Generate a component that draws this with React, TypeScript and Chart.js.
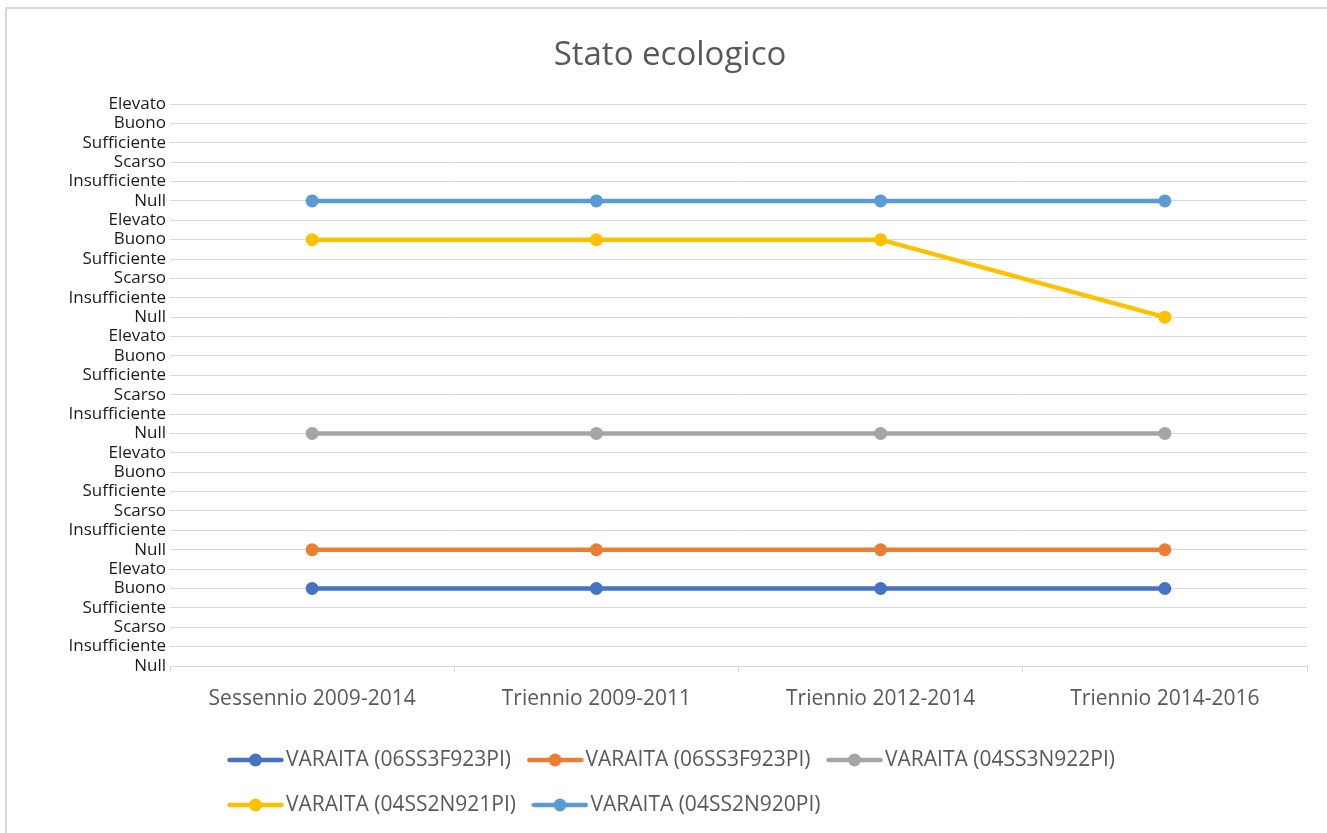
import React, { useEffect, useRef } from "react";
import { Chart, registerables } from "chart.js";

Chart.register(...registerables);

const categories = ["Sessennio 2009-2014", "Triennio 2009-2011", "Triennio 2012-2014", "Triennio 2014-2016"];
const levelLabels = ["Null", "Insufficiente", "Scarso", "Sufficiente", "Buono", "Elevato"];

const seriesNames = [
  "VARAITA (06SS3F923PI)",
  "VARAITA (06SS3F923PI)",
  "VARAITA (04SS3N922PI)",
  "VARAITA (04SS2N921PI)",
  "VARAITA (04SS2N920PI)",
];
const seriesColors = ["#4472C4", "#ED7D31", "#A5A5A5", "#FFC000", "#5B9BD5"];

// stacked values (Excel stacked line chart)
const s1 = [4, 4, 4, 4];
const s2 = [2, 2, 2, 2];
const s3 = [6, 6, 6, 6];
const s4 = [10, 10, 10, 6];
const s5 = [2, 2, 2, 6];
const seriesValues = [s1, s2, s3, s4, s5];

const yMax = 29;

function makeLegendImage(color: string): HTMLCanvasElement {
  const c = document.createElement("canvas");
  c.width = 57;
  c.height = 14;
  const ctx = c.getContext("2d")!;
  ctx.strokeStyle = color;
  ctx.lineWidth = 4.5;
  ctx.lineCap = "round";
  ctx.beginPath();
  ctx.moveTo(2.5, 7);
  ctx.lineTo(54.5, 7);
  ctx.stroke();
  ctx.fillStyle = color;
  ctx.beginPath();
  ctx.arc(28.5, 7, 6.5, 0, Math.PI * 2);
  ctx.fill();
  return c;
}

export default function App() {
  const canvasRef = useRef<HTMLCanvasElement | null>(null);

  useEffect(() => {
    if (!canvasRef.current) return;
    const legendImages = seriesColors.map((c) => makeLegendImage(c));

    const legendShift = {
      id: "legendShift",
      afterLayout(chart: any) {
        if (chart.legend) {
          chart.legend.left = 211.5;
        }
      },
    };

    const frame = {
      id: "frame",
      beforeDraw(chart: any) {
        const ctx = chart.ctx;
        ctx.save();
        ctx.strokeStyle = "#d9d9d9";
        ctx.lineWidth = 2;
        ctx.beginPath();
        ctx.moveTo(6, chart.height);
        ctx.lineTo(6, 8);
        ctx.lineTo(chart.width, 8);
        ctx.stroke();
        ctx.restore();
      },
    };

    const chart = new Chart(canvasRef.current, {
      type: "line",
      data: {
        labels: categories,
        datasets: seriesValues.map((vals, i) => ({
          label: seriesNames[i],
          data: vals,
          borderColor: seriesColors[i],
          backgroundColor: seriesColors[i],
          pointBackgroundColor: seriesColors[i],
          pointBorderColor: seriesColors[i],
          borderWidth: 4.5,
          pointRadius: 6.5,
          pointBorderWidth: 0,
          fill: false,
          tension: 0,
        })),
      },
      options: {
        responsive: false,
        animation: false,
        layout: { padding: { left: 33, right: 20, top: 0, bottom: 7.5 } },
        plugins: {
          title: {
            display: true,
            text: "Stato ecologico",
            color: "#595959",
            font: { family: "Open Sans", size: 33, weight: "normal" },
            padding: { top: 36, bottom: 28.4 },
          },
          legend: {
            display: true,
            position: "bottom",
            align: "start",
            fullSize: false,
            labels: {
              usePointStyle: true,
              pointStyleWidth: 40,
              padding: 24,
              color: "#595959",
              font: { family: "Open Sans", size: 21 },
              generateLabels: (ch: any) =>
                ch.data.datasets.map((ds: any, i: number) => ({
                  text: ds.label,
                  fillStyle: ds.borderColor,
                  strokeStyle: ds.borderColor,
                  lineWidth: 0,
                  pointStyle: legendImages[i],
                  hidden: false,
                  datasetIndex: i,
                  fontColor: "#595959",
                })),
            },
          },
          tooltip: { enabled: false },
        },
        scales: {
          x: {
            type: "category",
            offset: true,
            grid: {
              offset: true,
              drawOnChartArea: false,
              drawTicks: true,
              tickLength: 6,
              color: "#d9d9d9",
              lineWidth: 1,
            },
            border: { display: true, color: "#d9d9d9", width: 1 },
            ticks: {
              color: "#595959",
              font: { family: "Open Sans", size: 21 },
              padding: 14,
              maxRotation: 0,
              autoSkip: false,
            },
            afterFit: (scale: any) => {
              scale.height = 59.5;
            },
          },
          y: {
            stacked: true,
            min: 0,
            max: yMax,
            grid: { color: "#d9d9d9", lineWidth: 1, drawTicks: false },
            border: { display: false },
            ticks: {
              stepSize: 1,
              autoSkip: false,
              padding: 4,
              color: "#1a1a1a",
              font: { family: "Open Sans", size: 17 },
              callback: (v: any) => levelLabels[Number(v) % 6],
            },
            afterFit: (scale: any) => {
              scale.width = 137;
            },
          },
        },
      },
      plugins: [legendShift, frame],
    });
    return () => chart.destroy();
  }, []);

  return (
    <div style={{ position: "fixed", left: 0, top: 0, width: 1327, height: 833 }}>
      <canvas ref={canvasRef} width={1327} height={833} style={{ display: "block" }} />
    </div>
  );
}
